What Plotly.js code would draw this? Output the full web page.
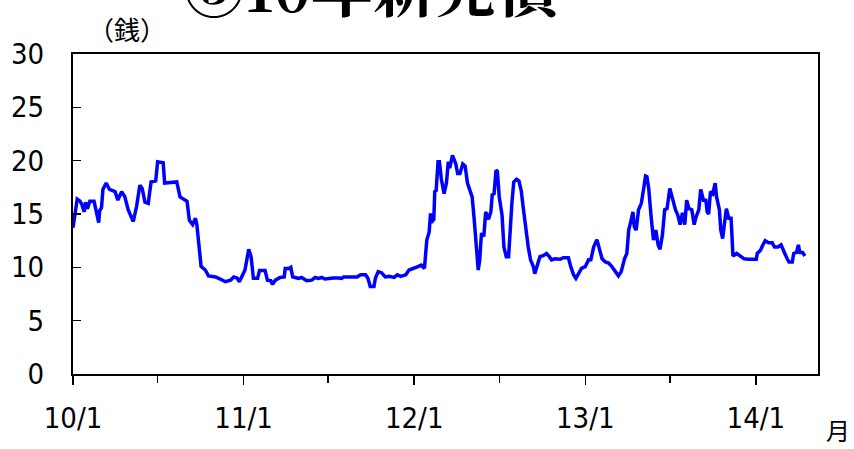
<!DOCTYPE html>
<html>
<head>
<meta charset="utf-8">
<script src="https://cdn.plot.ly/plotly-3.0.1.min.js"></script>
<style>
html,body{margin:0;padding:0;background:#fff;}
#chart{width:854px;height:449px;}
#chart .xtick text, #chart .ytick text{font-stretch:condensed;}
</style>
</head>
<body>
<div id="chart"></div>
<script>
const dates = [
"2010-01-01","2010-01-04","2010-01-07","2010-01-10","2010-01-16","2010-01-20","2010-01-25","2010-01-28","2010-02-01","2010-02-06",
"2010-02-15","2010-02-19","2010-02-25","2010-02-27","2010-03-03","2010-03-06","2010-03-13","2010-03-20","2010-04-01","2010-04-07",
"2010-04-15","2010-04-22","2010-04-29","2010-05-10","2010-05-17","2010-05-24","2010-05-29","2010-06-04","2010-06-11","2010-06-17",
"2010-06-27","2010-07-01","2010-07-13","2010-07-16","2010-08-11","2010-08-18","2010-08-27","2010-09-02","2010-09-07","2010-09-14",
"2010-09-20","2010-09-23","2010-10-02","2010-10-11","2010-10-18","2010-11-02","2010-11-12","2010-11-23","2010-12-04","2010-12-11",
"2010-12-18","2010-12-23","2011-01-04","2011-01-12","2011-01-17","2011-01-22","2011-01-31","2011-02-04","2011-02-16","2011-02-21",
"2011-02-28","2011-03-04","2011-03-10","2011-03-20","2011-03-29","2011-03-31","2011-04-08","2011-04-12","2011-04-16","2011-04-28",
"2011-05-05","2011-05-16","2011-05-27","2011-06-03","2011-06-10","2011-06-17","2011-06-24","2011-07-05","2011-07-12","2011-07-23",
"2011-07-30","2011-08-03","2011-09-01","2011-09-08","2011-09-19","2011-09-24","2011-09-29","2011-10-07","2011-10-10","2011-10-16",
"2011-10-23","2011-10-31","2011-11-08","2011-11-19","2011-11-26","2011-12-03","2011-12-14","2011-12-21","2012-01-02","2012-01-09",
"2012-01-16","2012-01-23","2012-01-28","2012-02-02","2012-02-05","2012-02-07","2012-02-12","2012-02-14","2012-02-17","2012-02-21",
"2012-02-24","2012-02-28","2012-03-05","2012-03-10","2012-03-14","2012-03-17","2012-03-23","2012-03-30","2012-04-03","2012-04-08",
"2012-04-14","2012-04-19","2012-04-24","2012-05-01","2012-05-04","2012-05-08","2012-05-13","2012-05-17","2012-05-20","2012-05-24",
"2012-05-29","2012-06-02","2012-06-08","2012-06-13","2012-06-16","2012-06-20","2012-06-24","2012-06-27","2012-07-01","2012-07-07",
"2012-07-11","2012-07-16","2012-07-21","2012-07-24","2012-07-28","2012-08-01","2012-08-07","2012-08-12","2012-08-17","2012-08-21",
"2012-08-27","2012-09-01","2012-09-06","2012-09-12","2012-09-15","2012-09-20","2012-09-26","2012-10-03","2012-10-10","2012-10-16",
"2012-10-21","2012-10-28","2012-11-08","2012-11-15","2012-11-26","2012-12-01","2012-12-07","2012-12-12","2012-12-17","2012-12-24",
"2013-01-01","2013-01-08","2013-01-13","2013-01-19","2013-01-26","2013-02-01","2013-02-06","2013-02-13","2013-02-20","2013-02-27",
"2013-03-04","2013-03-13","2013-03-19","2013-03-26","2013-03-31","2013-04-04","2013-04-09","2013-04-13","2013-04-16","2013-04-20",
"2013-04-25","2013-05-01","2013-05-06","2013-05-10","2013-05-13","2013-05-17","2013-05-22","2013-05-27","2013-06-01","2013-06-06",
"2013-06-10","2013-06-15","2013-06-20","2013-06-25","2013-07-01","2013-07-04","2013-07-09","2013-07-13","2013-07-18","2013-07-23",
"2013-07-28","2013-08-02","2013-08-06","2013-08-11","2013-08-17","2013-08-22","2013-08-26","2013-09-01","2013-09-05","2013-09-11",
"2013-09-16","2013-09-19","2013-09-22","2013-09-26","2013-10-01","2013-10-06","2013-10-09","2013-10-15","2013-10-18","2013-10-22",
"2013-10-25","2013-10-30","2013-11-04","2013-11-09","2013-11-11","2013-11-13","2013-11-21","2013-11-28","2013-12-07","2013-12-16",
"2014-01-02","2014-01-04","2014-01-11","2014-01-16","2014-01-21","2014-01-28","2014-02-05","2014-02-10","2014-02-17","2014-02-24",
"2014-03-01","2014-03-04","2014-03-09","2014-03-13","2014-03-20","2014-03-23","2014-03-29","2014-04-02","2014-04-05","2014-04-11",
"2014-04-16"
];
const spreadSen = [
13.7,14.5,15.4,16.4,16.2,15.9,15.2,16.1,15.5,16.2,
16.2,15.5,14.2,15.3,15.6,17.3,17.9,17.3,17.1,16.3,
17.1,16.6,15.4,14.3,15.7,17.7,17.4,16.1,16.0,18.0,
18.1,19.9,19.8,17.9,18.0,16.6,16.4,16.2,14.4,14.0,
14.6,14.0,10.1,9.75,9.2,9.1,8.9,8.65,8.8,9.1,
9.0,8.65,9.75,11.7,11.0,8.97,8.97,9.7,9.7,8.8,
8.75,8.4,8.8,9.05,9.1,9.9,9.9,10.0,9.1,8.97,
9.05,8.75,8.8,9.05,8.97,9.05,8.9,8.97,9.0,9.0,
8.97,9.1,9.1,9.3,9.3,8.97,8.2,8.2,8.97,9.6,
9.5,9.1,9.15,9.05,9.3,9.15,9.3,9.75,9.9,10.06,
10.2,9.9,12.56,13.3,15.06,14.2,14.5,17.1,17.2,19.9,
19.9,18.3,16.9,17.9,19.9,19.3,20.5,19.7,18.8,18.8,
19.7,19.5,17.9,16.9,16.6,14.7,11.3,9.75,10.6,13.2,
12.9,15.2,14.5,15.2,16.8,16.9,19.1,19.0,16.6,14.9,
11.9,11.0,11.0,13.8,16.0,18.0,18.25,18.1,17.2,15.7,
13.5,11.9,10.7,10.06,9.4,10.2,11.0,11.1,11.3,11.0,
10.7,10.8,10.75,10.9,10.9,10.06,9.3,8.97,9.3,9.9,
10.06,10.7,10.7,11.9,12.6,11.6,10.8,10.5,10.4,10.06,
9.75,9.2,9.6,10.8,11.3,13.5,14.4,15.2,13.8,13.5,
15.4,16.0,17.4,18.56,18.5,17.3,14.7,12.56,13.5,12.1,
11.7,13.0,15.4,15.5,17.4,16.9,16.3,15.4,14.9,14.0,
15.1,14.0,16.3,15.5,15.4,14.0,14.7,15.4,17.3,16.3,
16.3,15.2,15.0,17.1,16.9,17.9,16.6,15.4,13.5,12.7,
13.8,15.5,14.6,14.6,12.9,11.06,11.3,11.1,10.8,10.75,
10.75,11.3,11.6,12.1,12.5,12.3,12.3,11.9,11.9,12.1,
11.6,11.1,10.8,10.5,10.5,11.3,11.4,12.1,11.4,11.4,
11.06
];
const xTickVals = ["2010-01-01","2011-01-01","2012-01-01","2013-01-01","2014-01-01"];
const xTickText = ["10/1","11/1","12/1","13/1","14/1"];
const xMinorVals = ["2010-07-01","2011-07-01","2012-07-01","2013-07-01"];
const yTickVals = [0,5,10,15,20,25,30];

const tickFont = {family: "DejaVu Sans Condensed, DejaVu Sans, sans-serif", size: 29, color: "#000"};
const jpFont = "Noto Sans CJK JP, sans-serif";

const trace = {
  x: dates, y: spreadSen, type: "scatter", mode: "lines",
  line: {color: "#0000FF", width: 3.5}, hoverinfo: "skip"
};

const layout = {
  width: 854, height: 449,
  margin: {l: 73, r: 36, t: 54, b: 75, pad: 0},
  paper_bgcolor: "#fff", plot_bgcolor: "#fff",
  showlegend: false,
  xaxis: {
    type: "date", range: ["2010-01-01", "2014-05-14"],
    tickmode: "array", tickvals: xTickVals, ticktext: xTickText,
    ticks: "outside", ticklen: 9, tickwidth: 1.5, tickcolor: "#000",
    minor: {tickmode: "array", tickvals: xMinorVals, ticks: "outside", ticklen: 7, tickwidth: 1.5, tickcolor: "#000"},
    showline: true, linecolor: "#000", linewidth: 2, mirror: true,
    showgrid: false, zeroline: false,
    tickfont: tickFont, ticklabelstandoff: 8, fixedrange: true
  },
  yaxis: {
    range: [0, 30], tickmode: "array", tickvals: yTickVals,
    ticks: "inside", ticklen: 8, tickwidth: 1.5, tickcolor: "#000",
    showline: true, linecolor: "#000", linewidth: 2, mirror: true,
    showgrid: false, zeroline: false,
    tickfont: tickFont, ticklabelstandoff: 21, fixedrange: true
  },
  annotations: [
    {text: "③10年新発債", xref: "paper", yref: "paper", x: 0.405, y: 1.215,
     xanchor: "center", yanchor: "middle", showarrow: false,
     font: {family: "Noto Serif CJK JP, Noto Sans CJK JP, serif", size: 62, color: "#000", weight: "bold"}},
    {text: "（銭）", xref: "paper", yref: "paper", x: 0.072, y: 1.081,
     xanchor: "center", yanchor: "middle", showarrow: false,
     font: {family: jpFont, size: 26, color: "#000"}},
    {text: "月", xref: "paper", yref: "paper", x: 1.027, y: -0.172,
     xanchor: "center", yanchor: "middle", showarrow: false, borderpad: 0,
     font: {family: jpFont, size: 24, color: "#000"}}
  ]
};

Plotly.newPlot("chart", [trace], layout, {staticPlot: true, displayModeBar: false});
</script>
</body>
</html>
